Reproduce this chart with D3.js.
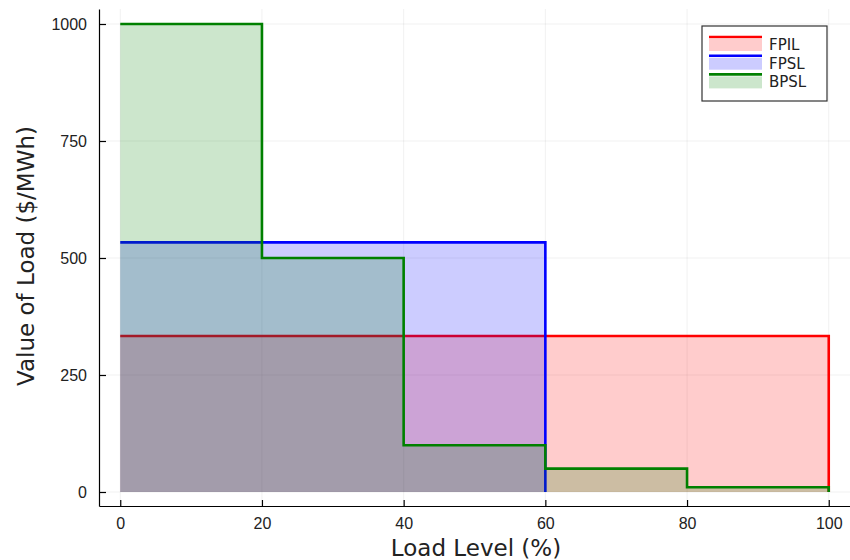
<!DOCTYPE html>
<html>
<head>
<meta charset="utf-8">
<script src="https://cdn.jsdelivr.net/npm/d3@7"></script>
<style>
  body { margin: 0; background: #fff; }
  svg { font-family: "DejaVu Sans", sans-serif; }
  .grid line { stroke: #000; stroke-opacity: 0.1; stroke-width: 0.6; }
  .axis path, .axis line { stroke: #000; stroke-width: 1.2; }
  .axis text { fill: #222; font-size: 16px; }
</style>
</head>
<body>
<svg></svg>
<script>
// load levels (%) where each step starts; last point closes the step at 0
var seriesNames = ["FPIL", "FPSL", "BPSL"];
var seriesColors = ["#ff0000", "#0000ff", "#008000"];
var fpilX = [0, 100],  fpilY = [333.33, 0];
var fpslX = [0, 60],   fpslY = [533.33, 0];
var bpslX = [0, 20, 40, 60, 80, 100], bpslY = [1000, 500, 100, 50, 10, 0];
var xTicks = [0, 20, 40, 60, 80, 100];
var yTicks = [0, 250, 500, 750, 1000];

var width = 850, height = 560;
var plotLeft = 99, plotRight = 850, plotTop = 9, plotBottom = 506;

var svg = d3.select("svg")
    .attr("width", width)
    .attr("height", height);

var x = d3.scaleLinear()
    .domain([-3, 103])
    .range([plotLeft, plotRight]);
var y = d3.scaleLinear()
    .domain([y0(), y1()])
    .range([plotBottom, plotTop]);

// value range picked so 0 sits at 492px and 1000 at 24px
function y0() { return -(plotBottom - 492) / 0.468; }
function y1() { return (492 - plotTop) / 0.468; }

// grid
var grid = svg.append("g").attr("class", "grid");
grid.selectAll(".gx").data(xTicks).enter().append("line")
    .attr("x1", function(d) { return x(d); })
    .attr("x2", function(d) { return x(d); })
    .attr("y1", plotTop).attr("y2", plotBottom);
grid.selectAll(".gy").data(yTicks).enter().append("line")
    .attr("x1", plotLeft).attr("x2", plotRight)
    .attr("y1", function(d) { return y(d); })
    .attr("y2", function(d) { return y(d); });

var series = [
  { xs: fpilX, ys: fpilY },
  { xs: fpslX, ys: fpslY },
  { xs: bpslX, ys: bpslY }
];

var area = d3.area()
    .curve(d3.curveStepAfter)
    .x(function(d) { return x(d[0]); })
    .y0(y(0))
    .y1(function(d) { return y(d[1]); });
var line = d3.line()
    .curve(d3.curveStepAfter)
    .x(function(d) { return x(d[0]); })
    .y(function(d) { return y(d[1]); });

series.forEach(function(s, i) {
  var pts = s.xs.map(function(v, j) { return [v, s.ys[j]]; });
  svg.append("path")
      .datum(pts)
      .attr("d", area)
      .style("fill", seriesColors[i])
      .style("fill-opacity", 0.2)
      .style("stroke", "none");
  svg.append("path")
      .datum(pts)
      .attr("d", line)
      .style("fill", "none")
      .style("stroke", seriesColors[i])
      .style("stroke-width", 2.6);
});

// axes
svg.append("g")
    .attr("class", "axis")
    .attr("transform", "translate(0," + plotBottom + ")")
    .call(d3.axisTop(x).tickValues(xTicks).tickSize(6).tickSizeOuter(0))
    .call(function(g) {
      g.selectAll("text").attr("y", 23).attr("dy", null);
    });
svg.append("g")
    .attr("class", "axis")
    .attr("transform", "translate(" + plotLeft + ",0)")
    .call(d3.axisRight(y).tickValues(yTicks).tickFormat(d3.format("d"))
      .tickSize(7).tickSizeOuter(0))
    .call(function(g) {
      g.selectAll("text").attr("x", -12).attr("text-anchor", "end");
    });

// axis labels
svg.append("text")
    .attr("x", 476)
    .attr("y", 556)
    .attr("text-anchor", "middle")
    .style("font-size", "23px")
    .style("fill", "#222")
    .text("Load Level (%)");
svg.append("text")
    .attr("transform", "translate(34,256) rotate(-90)")
    .attr("text-anchor", "middle")
    .style("font-size", "23px")
    .style("fill", "#222")
    .text("Value of Load ($/MWh)");

// legend
var legend = svg.append("g").attr("transform", "translate(702,26)");
legend.append("rect")
    .attr("width", 125)
    .attr("height", 75)
    .style("fill", "#fff")
    .style("stroke", "#333")
    .style("stroke-width", 1.2);
seriesNames.forEach(function(name, i) {
  var yy = 11 + i * 18.7;
  legend.append("rect")
      .attr("x", 7).attr("y", yy + 2)
      .attr("width", 53).attr("height", 12)
      .style("fill", seriesColors[i])
      .style("fill-opacity", 0.2);
  legend.append("line")
      .attr("x1", 7).attr("x2", 60)
      .attr("y1", yy).attr("y2", yy)
      .style("stroke", seriesColors[i])
      .style("stroke-width", 2.6);
  legend.append("text")
      .attr("x", 67)
      .attr("y", yy + 13)
      .style("font-size", "15px")
      .style("fill", "#222")
      .text(name);
});
</script>
</body>
</html>
